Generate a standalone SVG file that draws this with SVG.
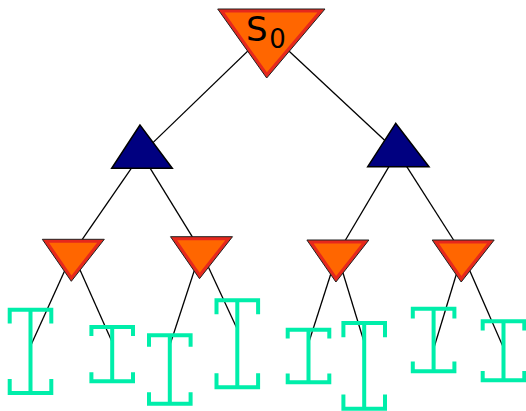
<svg xmlns="http://www.w3.org/2000/svg" xmlns:xlink="http://www.w3.org/1999/xlink" width="526" height="411" viewBox="0 0 526 411">
  <style>
    .edge { stroke: #000; stroke-width: 1.3; fill: none; }
    .tri-out { fill: #e6281c; stroke: #222; stroke-width: 1; stroke-linejoin: miter; }
    .tri-in { fill: #ff6600; }
    .max { fill: #000080; stroke: #000; stroke-width: 1.5; stroke-linejoin: miter; }
    .leaf { fill: none; stroke: #00eeaa; stroke-width: 4; stroke-linejoin: miter; stroke-linecap: butt; }
    .label { font-family: "DejaVu Sans", "Liberation Sans", sans-serif; fill: #000; }
  </style>
  <defs>
    <!-- small min-node: downward triangle with red rim -->
    <g id="minNode">
      <polygon class="tri-out" points="-31,0 31,0 -2,42"/>
      <polygon class="tri-in" points="-24.3,3.5 23.8,3.5 -1.8,36.1"/>
    </g>
  </defs>

  <!-- connectors -->
  <g id="edges">
    <line class="edge" x1="267.5" y1="32" x2="141.3" y2="153.9"/>
    <line class="edge" x1="268.5" y1="32" x2="397.5" y2="152.2"/>
    <line class="edge" x1="141.3" y1="153.9" x2="72.6" y2="253.3"/>
    <line class="edge" x1="141.3" y1="153.9" x2="200.8" y2="250.7"/>
    <line class="edge" x1="397.5" y1="152.2" x2="337.2" y2="254"/>
    <line class="edge" x1="397.5" y1="152.2" x2="462.5" y2="254"/>
    <line class="edge" x1="72.6" y1="253.3" x2="31" y2="345"/>
    <line class="edge" x1="72.6" y1="253.3" x2="112" y2="341.7"/>
    <line class="edge" x1="200.8" y1="250.7" x2="170.5" y2="343.3"/>
    <line class="edge" x1="200.8" y1="250.7" x2="237.3" y2="329.3"/>
    <line class="edge" x1="337.2" y1="254" x2="309" y2="341.7"/>
    <line class="edge" x1="337.2" y1="254" x2="364" y2="341.7"/>
    <line class="edge" x1="462.5" y1="254" x2="433.5" y2="349.3"/>
    <line class="edge" x1="462.5" y1="254" x2="504" y2="349"/>
  </g>

  <!-- root -->
  <g id="s0">
    <polygon class="tri-out" points="217.7,9 325,9 266.7,78"/>
    <polygon class="tri-in" points="224.5,12.5 317.4,12.5 266.9,72.3"/>
    <text class="label" x="246" y="41" font-size="34">S</text>
    <text class="label" x="269.3" y="47.7" font-size="26">0</text>
  </g>

  <!-- max nodes -->
  <g id="maxL">
    <polygon class="max" points="140,125 111.7,168.3 172.3,168.3"/>
  </g>
  <g id="maxR">
    <polygon class="max" points="395.7,123.3 367.7,166.7 429,166.7"/>
  </g>

  <!-- min nodes -->
  <g id="minA"><use xlink:href="#minNode" transform="translate(73.3 239.3)"/></g>
  <g id="minB"><use xlink:href="#minNode" transform="translate(201.5 236.7)"/></g>
  <g id="minC"><use xlink:href="#minNode" transform="translate(337.9 240)"/></g>
  <g id="minD"><use xlink:href="#minNode" transform="translate(463.2 240)"/></g>

  <!-- leaves: interval bars -->
  <g id="leaf1"><path class="leaf" d="M9.7,323.6 V309.7 H51.3 V323.6 M30.5,309.7 V393 M9.7,379.1 V393 H51.3 V379.1"/></g>
  <g id="leaf2"><path class="leaf" d="M91.4,336 V327 H133 V336 M112.2,327 V381.3 M91.4,372.3 V381.3 H133 V372.3"/></g>
  <g id="leaf3"><path class="leaf" d="M149,346.7 V335.3 H190.6 V346.7 M169.8,335.3 V403.7 M149,392.3 V403.7 H190.6 V392.3"/></g>
  <g id="leaf4"><path class="leaf" d="M216.5,314.3 V300.3 H258.1 V314.3 M237.3,300.3 V387.3 M216.5,373.3 V387.3 H258.1 V373.3"/></g>
  <g id="leaf5"><path class="leaf" d="M287.7,338.5 V329.7 H329.3 V338.5 M308.5,329.7 V382.3 M287.7,373.5 V382.3 H329.3 V373.5"/></g>
  <g id="leaf6"><path class="leaf" d="M343.4,337.3 V323 H385 V337.3 M364.2,323 V408.7 M343.4,394.4 V408.7 H385 V394.4"/></g>
  <g id="leaf7"><path class="leaf" d="M412.8,318.5 V308.7 H454.4 V318.5 M433.6,308.7 V371.3 M412.8,361.5 V371.3 H454.4 V361.5"/></g>
  <g id="leaf8"><path class="leaf" d="M482.7,330.5 V321.3 H524.3 V330.5 M503.5,321.3 V380.3 M482.7,371.1 V380.3 H524.3 V371.1"/></g>
</svg>
